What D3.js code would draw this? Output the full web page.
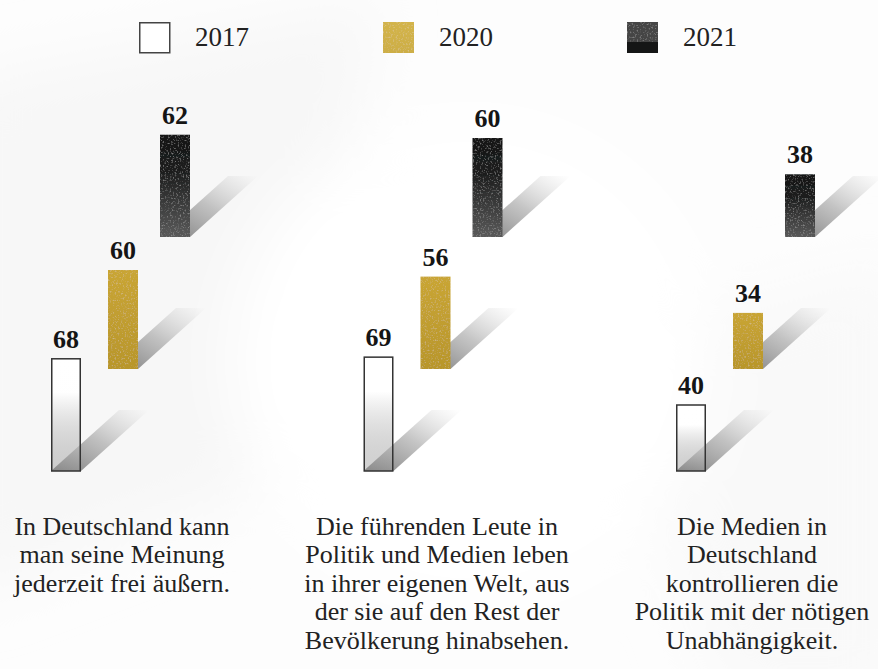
<!DOCTYPE html>
<html>
<head>
<meta charset="utf-8">
<script src="https://cdn.jsdelivr.net/npm/d3@7"></script>
<style>
  html, body { margin: 0; padding: 0; background: #fdfdfd; }
  #chart { width: 878px; height: 669px; }
</style>
</head>
<body>
<div id="chart"></div>
<script>
// data
const years = ['2017', '2020', '2021'];
const values2017 = [68, 69, 40];
const values2020 = [60, 56, 34];
const values2021 = [62, 60, 38];
const statements = [
    ['In Deutschland kann', 'man seine Meinung', 'jederzeit frei äußern.'],
    ['Die führenden Leute in', 'Politik und Medien leben', 'in ihrer eigenen Welt, aus', 'der sie auf den Rest der', 'Bevölkerung hinabsehen.'],
    ['Die Medien in', 'Deutschland', 'kontrollieren die', 'Politik mit der nötigen', 'Unabhängigkeit.']
];

const width = 878;
const height = 669;
const barWidth = 30;
const shadowDx = 68;
const shadowDy = 61;

const series = years.map((y, i) => ({
    year: y,
    values: [values2017, values2020, values2021][i]
}));

const svg = d3.select('#chart')
    .append('svg')
    .attr('width', width)
    .attr('height', height)
    .style('font-family', '"Liberation Serif", "DejaVu Serif", serif');

const defs = svg.append('defs');

// soft background blur
defs.append('filter').attr('id', 'soft')
    .attr('x', '-50%').attr('y', '-50%').attr('width', '200%').attr('height', '200%')
    .append('feGaussianBlur').attr('stdDeviation', 30);

// grain for textured bars (kept faint)
const grain = defs.append('filter').attr('id', 'grain')
    .attr('x', 0).attr('y', 0).attr('width', '100%').attr('height', '100%');
grain.append('feTurbulence')
    .attr('type', 'fractalNoise').attr('baseFrequency', 0.6)
    .attr('numOctaves', 2).attr('seed', 3).attr('result', 'noise');
grain.append('feColorMatrix').attr('in', 'noise').attr('type', 'matrix')
    .attr('values', '0 0 0 0 1  0 0 0 0 1  0 0 0 0 1  0.6 0 0 0 -0.33')
    .attr('result', 'specks');
grain.append('feComposite').attr('in', 'specks').attr('in2', 'SourceGraphic')
    .attr('operator', 'in').attr('result', 'clipped');
const merge = grain.append('feMerge');
merge.append('feMergeNode').attr('in', 'SourceGraphic');
merge.append('feMergeNode').attr('in', 'clipped');

function vGradient(id, stops) {
    const g = defs.append('linearGradient').attr('id', id)
        .attr('x1', 0).attr('y1', 0).attr('x2', 0).attr('y2', 1);
    stops.forEach(s => g.append('stop')
        .attr('offset', s[0]).attr('stop-color', s[1]).attr('stop-opacity', s[2]));
}
vGradient('g2017', [[0, '#ffffff', 1], [0.3, '#ffffff', 0.95], [1, '#9a9a9a', 0.45]]);
vGradient('g2020', [[0, '#c9a534', 1], [1, '#b8962b', 1]]);
vGradient('g2021', [[0, '#151616', 1], [0.35, '#1c1d1d', 1], [1, '#5a5a5a', 1]]);
vGradient('gLeg2020', [[0, '#d3b44b', 1], [1, '#cdae45', 1]]);

const shadowGrad = defs.append('linearGradient').attr('id', 'shadow')
    .attr('x1', 0).attr('y1', 1).attr('x2', 1).attr('y2', 0);
shadowGrad.append('stop').attr('offset', 0).attr('stop-color', '#5a5a5a').attr('stop-opacity', 0.8);
shadowGrad.append('stop').attr('offset', 0.5).attr('stop-color', '#8a8a8a').attr('stop-opacity', 0.5);
shadowGrad.append('stop').attr('offset', 1).attr('stop-color', '#bbb').attr('stop-opacity', 0);

// background
svg.append('rect').attr('width', width).attr('height', height).attr('fill', '#fdfdfd');
const bg = svg.append('g').attr('filter', 'url(#soft)');
bg.append('path')
    .attr('d', 'M-40,80 L380,0 L280,480 L-40,600 Z')
    .attr('fill', '#f7f7f7');
bg.append('path')
    .attr('d', 'M600,340 L900,260 L900,700 L720,700 Z')
    .attr('fill', '#f9f9f9');
bg.append('circle').attr('cx', 470).attr('cy', 360).attr('r', 240).attr('fill', '#ffffff');

// scales
const groupX = d3.scalePoint()
    .domain(d3.range(statements.length))
    .range([121, 746]);

const textX = d3.scalePoint()
    .domain(d3.range(statements.length))
    .range([122, 752]);

const barOffset = d3.scaleOrdinal()
    .domain(years)
    .range([-70, -13, 39]);

const baseY = d3.scaleOrdinal()
    .domain(years)
    .range([471, 369, 237]);

const h = d3.scaleLinear()
    .domain([0, 100])
    .range([0, 165]);

// legend
const legendX = d3.scalePoint()
    .domain(years)
    .range([139, 627]);

const legend = svg.append('g').selectAll('g')
    .data(years)
    .enter()
    .append('g')
    .attr('transform', d => 'translate(' + legendX(d) + ',22)');

legend.each(function (d) {
    const g = d3.select(this);
    if (d === '2017') {
        g.append('rect').attr('x', 0.75).attr('y', 0.75).attr('width', 30).attr('height', 30)
            .attr('fill', '#fff').attr('stroke', '#444').attr('stroke-width', 1.5);
    } else if (d === '2020') {
        g.append('rect').attr('width', 31).attr('height', 31)
            .attr('fill', 'url(#gLeg2020)').attr('filter', 'url(#grain)');
    } else {
        g.append('rect').attr('width', 31).attr('height', 20)
            .attr('fill', '#444').attr('filter', 'url(#grain)');
        g.append('rect').attr('y', 20).attr('width', 31).attr('height', 11)
            .attr('fill', '#151616');
    }
});

legend.append('text')
    .attr('x', 56)
    .attr('y', 24)
    .attr('font-size', 27)
    .attr('fill', '#222')
    .text(d => d);

// bars
const bars = [];
series.forEach(s => {
    s.values.forEach((v, i) => {
        bars.push({ year: s.year, group: i, value: v });
    });
});

const barX = d => groupX(d.group) + barOffset(d.year);

svg.append('g').selectAll('path')
    .data(bars)
    .enter()
    .append('path')
    .attr('fill', 'url(#shadow)')
    .attr('d', d => {
        const x = barX(d), b = baseY(d.year);
        return 'M' + x + ',' + b +
            'L' + (x + barWidth) + ',' + b +
            'L' + (x + barWidth + shadowDx) + ',' + (b - shadowDy) +
            'L' + (x + shadowDx) + ',' + (b - shadowDy) + 'Z';
    });

svg.append('g').selectAll('rect')
    .data(bars)
    .enter()
    .append('rect')
    .attr('x', d => barX(d) + (d.year === '2017' ? 0.75 : 0))
    .attr('y', d => baseY(d.year) - h(d.value))
    .attr('width', d => d.year === '2017' ? barWidth - 1.5 : barWidth)
    .attr('height', d => h(d.value))
    .attr('fill', d => 'url(#g' + d.year + ')')
    .attr('stroke', d => d.year === '2017' ? '#333' : 'none')
    .attr('stroke-width', 1.5)
    .attr('filter', d => d.year === '2017' ? null : 'url(#grain)');

svg.append('g').selectAll('text')
    .data(bars)
    .enter()
    .append('text')
    .attr('x', d => barX(d) + barWidth / 2)
    .attr('y', d => baseY(d.year) - h(d.value) - 11)
    .attr('text-anchor', 'middle')
    .attr('font-size', 26)
    .attr('font-weight', 'bold')
    .attr('fill', '#151515')
    .text(d => d.value);

// statements below
const notes = svg.append('g').selectAll('text')
    .data(statements)
    .enter()
    .append('text')
    .attr('text-anchor', 'middle')
    .attr('font-size', 26)
    .attr('fill', '#222');

notes.selectAll('tspan')
    .data((d, i) => d.map(line => ({ line: line, group: i })))
    .enter()
    .append('tspan')
    .attr('x', d => textX(d.group))
    .attr('y', (d, j) => 535 + j * 28.4)
    .text(d => d.line);
</script>
</body>
</html>
